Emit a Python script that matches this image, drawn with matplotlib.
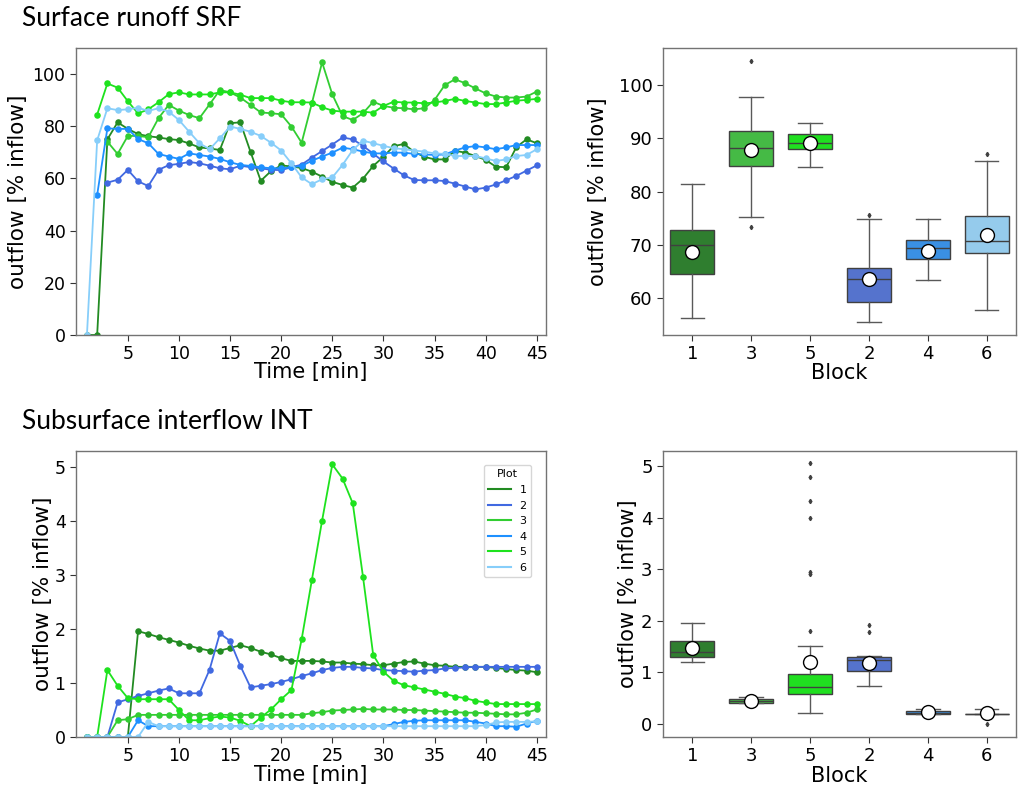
import numpy as np
import matplotlib
matplotlib.use("Agg")
import matplotlib.pyplot as plt
from matplotlib.lines import Line2D

nan = np.nan

time = list(range(1, 46))
plot_names = ["1", "2", "3", "4", "5", "6"]
line_colors = ["forestgreen", "royalblue", "limegreen", "dodgerblue", "#1ee21e", "lightskyblue"]
box_colors = ["#2f7e2f", "#45ba45", "#20df20", "#5573cd", "#3a90e3", "#95cbec"]
block_labels = ["1", "3", "5", "2", "4", "6"]

# surface runoff, % of inflow, t = 1..45 min
srf_1 = [0, 0, 75, 81.5, 79, 77, 76.2, 75.7, 75.1, 74.7, 73.4, 71.9, 71.5, 70.9, 81.2, 81.5,
         70.2, 59.1, 62.8, 65, 64.6, 64, 62.6, 60.7, 58.7, 57.5, 56.5, 59.9, 64.8, 68.3, 72.4,
         73.2, 70.2, 68.3, 67.3, 67.3, 70.6, 69.9, 68.6, 67.1, 64.5, 64.3, 72, 75, 73.5]
srf_2 = [nan, nan, 58.4, 59.5, 63.3, 58.9, 57.1, 63.3, 65.1, 65.6, 66.3, 65.8, 64.9, 63.9, 63.5,
         64.9, 64.3, 63.9, 63.3, 63.2, 64.3, 65.3, 68, 70.5, 73, 75.7, 75, 72.5, 69.5, 66.5,
         63.8, 61.2, 59.4, 59.3, 59.3, 59, 58, 56.9, 55.8, 56.5, 57.7, 59.3, 61, 63, 65]
srf_3 = [nan, nan, 74.1, 69.4, 76.3, 76.3, 75.8, 83.1, 88.2, 86, 84.3, 83.1, 88.4, 93.9, 93,
         91, 88.2, 85.3, 85, 84.6, 79.9, 73.7, 88.8, 104.5, 92.2, 83.9, 82.4, 85, 89.4, 87.8,
         87.1, 86.9, 86.5, 86.9, 90.1, 95.8, 98, 96.5, 94.5, 92.6, 91.4, 91, 91, 91.4, 93.3]
srf_4 = [nan, 53.7, 79.2, 79, 79, 75.1, 73.5, 69.4, 68.4, 67.5, 69.6, 69, 68.4, 67.5, 66.2,
         65.2, 64.8, 64.3, 63.9, 63.9, 64.3, 64.8, 66.8, 68.4, 69.9, 71.8, 71.2, 70.3, 69.6,
         69.6, 69.9, 69.9, 69.4, 69.2, 69, 69.2, 70.7, 71.9, 72.4, 71.9, 71.2, 71.9, 72.8,
         72.8, 72.8]
srf_5 = [nan, 84.5, 96.4, 94.8, 89.6, 84.9, 86.5, 89.2, 92.3, 93, 92.2, 92.2, 92.2, 93, 93,
         92.1, 90.8, 90.8, 90.8, 89.8, 89.2, 89.2, 89.1, 87.3, 86, 85.6, 85.6, 85.6, 85.2,
         87.8, 89.4, 89.1, 89.1, 88.8, 89.1, 89.7, 90.5, 89.7, 89.1, 88.5, 88.5, 89.1, 89.8,
         90.1, 90.5]
srf_6 = [0, 74.6, 86.9, 86.2, 86.5, 87.1, 85.9, 86.9, 85.6, 82.4, 77.9, 73.5, 71.2, 75.4, 79.9,
         79, 77.9, 76.3, 73.7, 70.7, 65.8, 60.4, 57.8, 59.7, 60.4, 65.2, 70.9, 74.5, 73.5, 72.5,
         71.6, 71.2, 70.7, 70.3, 69.6, 69.4, 68.6, 68.6, 68.6, 67.7, 66.7, 67.3, 68.6, 69, 71.2]

# subsurface interflow, % of inflow
int_1 = [0, 0, 0, 0, 0, 1.96, 1.91, 1.85, 1.80, 1.75, 1.69, 1.64, 1.60, 1.60, 1.65, 1.70, 1.65,
         1.58, 1.53, 1.46, 1.41, 1.41, 1.41, 1.40, 1.38, 1.38, 1.36, 1.35, 1.33, 1.33, 1.36,
         1.39, 1.40, 1.36, 1.33, 1.32, 1.30, 1.30, 1.30, 1.30, 1.28, 1.26, 1.24, 1.23, 1.20]
int_2 = [0, 0, 0, 0.64, 0.70, 0.76, 0.81, 0.86, 0.90, 0.81, 0.81, 0.81, 1.25, 1.92, 1.78, 1.32,
         0.92, 0.95, 0.98, 1.02, 1.07, 1.13, 1.18, 1.24, 1.28, 1.30, 1.30, 1.28, 1.27, 1.24,
         1.23, 1.22, 1.21, 1.23, 1.24, 1.27, 1.28, 1.29, 1.30, 1.30, 1.30, 1.30, 1.30, 1.30, 1.30]
int_3 = [0, 0, 0, 0.31, 0.33, 0.41, 0.41, 0.41, 0.41, 0.41, 0.41, 0.41, 0.41, 0.41, 0.41, 0.41,
         0.41, 0.41, 0.41, 0.41, 0.41, 0.41, 0.44, 0.46, 0.49, 0.50, 0.51, 0.52, 0.51, 0.51,
         0.51, 0.50, 0.50, 0.49, 0.48, 0.47, 0.46, 0.45, 0.45, 0.44, 0.43, 0.42, 0.42, 0.45, 0.51]
int_4 = [0, 0, 0, 0, 0, 0.31, 0.2, 0.2, 0.2, 0.2, 0.2, 0.2, 0.2, 0.2, 0.2, 0.2, 0.2, 0.2, 0.2,
         0.2, 0.2, 0.2, 0.2, 0.2, 0.2, 0.2, 0.2, 0.2, 0.2, 0.2, 0.24, 0.28, 0.30, 0.31, 0.31,
         0.31, 0.31, 0.31, 0.28, 0.25, 0.20, 0.20, 0.19, 0.25, 0.30]
int_5 = [0, 0, 1.24, 0.95, 0.72, 0.70, 0.70, 0.70, 0.70, 0.50, 0.31, 0.31, 0.35, 0.38, 0.36,
         0.30, 0.20, 0.36, 0.51, 0.70, 0.87, 1.81, 2.91, 4.01, 5.05, 4.79, 4.33, 2.97, 1.52,
         1.21, 1.04, 0.96, 0.92, 0.88, 0.84, 0.80, 0.75, 0.72, 0.67, 0.64, 0.61, 0.61, 0.61,
         0.61, 0.61]
int_6 = [0, 0, 0, 0, 0, 0, 0.28, 0.2, 0.2, 0.2, 0.2, 0.2, 0.2, 0.2, 0.2, 0.2, 0.2, 0.2, 0.2,
         0.2, 0.2, 0.2, 0.2, 0.2, 0.2, 0.2, 0.2, 0.2, 0.2, 0.2, 0.2, 0.2, 0.2, 0.2, 0.2, 0.2,
         0.2, 0.2, 0.2, 0.22, 0.27, 0.28, 0.28, 0.28, 0.29]

# box statistics per block (order 1, 3, 5, 2, 4, 6)
srf_q1 = [64.5, 84.8, 87.9, 59.2, 67.4, 68.4]
srf_med = [70.0, 88.1, 89.0, 63.6, 69.5, 70.7]
srf_q3 = [72.8, 91.4, 90.75, 65.6, 70.9, 75.4]
srf_lo = [56.25, 75.3, 84.5, 55.6, 63.4, 57.8]
srf_hi = [81.4, 97.75, 92.8, 74.9, 74.8, 85.75]
srf_mean = [68.6, 87.8, 89.0, 63.6, 68.9, 71.9]
srf_out = [[], [104.4, 73.4], [], [75.6], [], [87.0]]

int_q1 = [1.305, 0.40, 0.575, 1.03, 0.20, 0.20]
int_med = [1.39, 0.446, 0.71, 1.24, 0.22, 0.20]
int_q3 = [1.615, 0.478, 0.98, 1.29, 0.25, 0.20]
int_lo = [1.21, 0.40, 0.22, 0.74, 0.20, 0.20]
int_hi = [1.95, 0.517, 1.51, 1.32, 0.30, 0.30]
int_mean = [1.47, 0.446, 1.195, 1.18, 0.24, 0.22]
int_out = [[], [], [5.05, 4.78, 4.33, 4.0, 2.95, 2.9, 1.8], [1.92, 1.78], [], [0.0]]


W, H = 1019, 789
fig = plt.figure(figsize=(W / 100, H / 100), dpi=100)

ax_tl = fig.add_axes([76 / W, 1 - 335 / H, 470 / W, 287 / H])
ax_tr = fig.add_axes([663 / W, 1 - 335 / H, 353 / W, 287 / H])
ax_bl = fig.add_axes([76 / W, 1 - 737 / H, 470 / W, 286 / H])
ax_br = fig.add_axes([663 / W, 1 - 737 / H, 353 / W, 286 / H])

title_font = ["Lato", "DejaVu Sans"]
fig.text(22 / W, 1 - 26 / H, "Surface runoff SRF", fontsize=19, family=title_font)
fig.text(22 / W, 1 - 429 / H, "Subsurface interflow INT", fontsize=19, family=title_font)


def style_axes(ax, ticksize):
    for sp in ax.spines.values():
        sp.set_color("0.45")
        sp.set_linewidth(1.0)
    ax.tick_params(labelsize=ticksize, color="0.2", length=4)


def line_panel(ax, series, ylim, yticks):
    for vals, c, name in zip(series, line_colors, plot_names):
        ax.plot(time, vals, color=c, lw=1.3, marker="o", markersize=4.7,
                markeredgewidth=0, label=name)
    ax.set_xlim(-0.07, 45.9)
    ax.set_ylim(*ylim)
    ax.set_xticks([5, 10, 15, 20, 25, 30, 35, 40, 45])
    ax.set_yticks(yticks)
    style_axes(ax, 12.5)
    ax.set_xlabel("Time [min]", fontsize=15)
    ax.set_ylabel("outflow [% inflow]", fontsize=15.5)


def box_panel(ax, q1, med, q3, lo, hi, mean, out, yticks):
    stats = []
    for i in range(len(block_labels)):
        stats.append(dict(q1=q1[i], med=med[i], q3=q3[i], whislo=lo[i], whishi=hi[i],
                          mean=mean[i], fliers=out[i], label=block_labels[i]))
    bp = ax.bxp(stats, positions=range(len(stats)), widths=0.75, patch_artist=True,
                showmeans=True, capwidths=0.4,
                boxprops=dict(edgecolor="0.25", linewidth=1.0),
                whiskerprops=dict(color="0.35", linewidth=1.0),
                capprops=dict(color="0.35", linewidth=1.0),
                medianprops=dict(color="0.25", linewidth=1.0),
                meanprops=dict(marker="o", markerfacecolor="white",
                               markeredgecolor="black", markersize=10),
                flierprops=dict(marker="d", markersize=2.2, markerfacecolor="0.25",
                                markeredgecolor="0.25"))
    for patch, c in zip(bp["boxes"], box_colors):
        patch.set_facecolor(c)
    ax.set_xlim(-0.5, 5.5)
    ax.set_yticks(yticks)
    style_axes(ax, 13)
    ax.set_xlabel("Block", fontsize=15)
    ax.set_ylabel("outflow [% inflow]", fontsize=15)


line_panel(ax_tl, [srf_1, srf_2, srf_3, srf_4, srf_5, srf_6], (0, 110), [0, 20, 40, 60, 80, 100])
line_panel(ax_bl, [int_1, int_2, int_3, int_4, int_5, int_6], (0, 5.3), [0, 1, 2, 3, 4, 5])

handles = [Line2D([], [], color=c, lw=1.5) for c in line_colors]
leg = ax_bl.legend(handles, plot_names, title="Plot", fontsize=8, title_fontsize=8,
                   loc="upper right", bbox_to_anchor=(0.968, 0.951), borderaxespad=0,
                   framealpha=0.8)

box_panel(ax_tr, srf_q1, srf_med, srf_q3, srf_lo, srf_hi, srf_mean, srf_out,
          [60, 70, 80, 90, 100])
ax_tr.set_ylim(53.1, 106.9)
box_panel(ax_br, int_q1, int_med, int_q3, int_lo, int_hi, int_mean, int_out,
          [0, 1, 2, 3, 4, 5])
ax_br.set_ylim(-0.25, 5.29)

ax_tl.xaxis.set_label_coords(0.5, -0.094)
ax_bl.xaxis.set_label_coords(0.5, -0.098)
ax_tr.xaxis.set_label_coords(0.5, -0.098)
ax_br.xaxis.set_label_coords(0.5, -0.101)
ax_tl.yaxis.set_label_coords(-0.102, 0.5)
ax_bl.yaxis.set_label_coords(-0.049, 0.5)
ax_tr.yaxis.set_label_coords(-0.156, 0.5)
ax_br.yaxis.set_label_coords(-0.071, 0.5)

fig.savefig("out.png", dpi=100)
